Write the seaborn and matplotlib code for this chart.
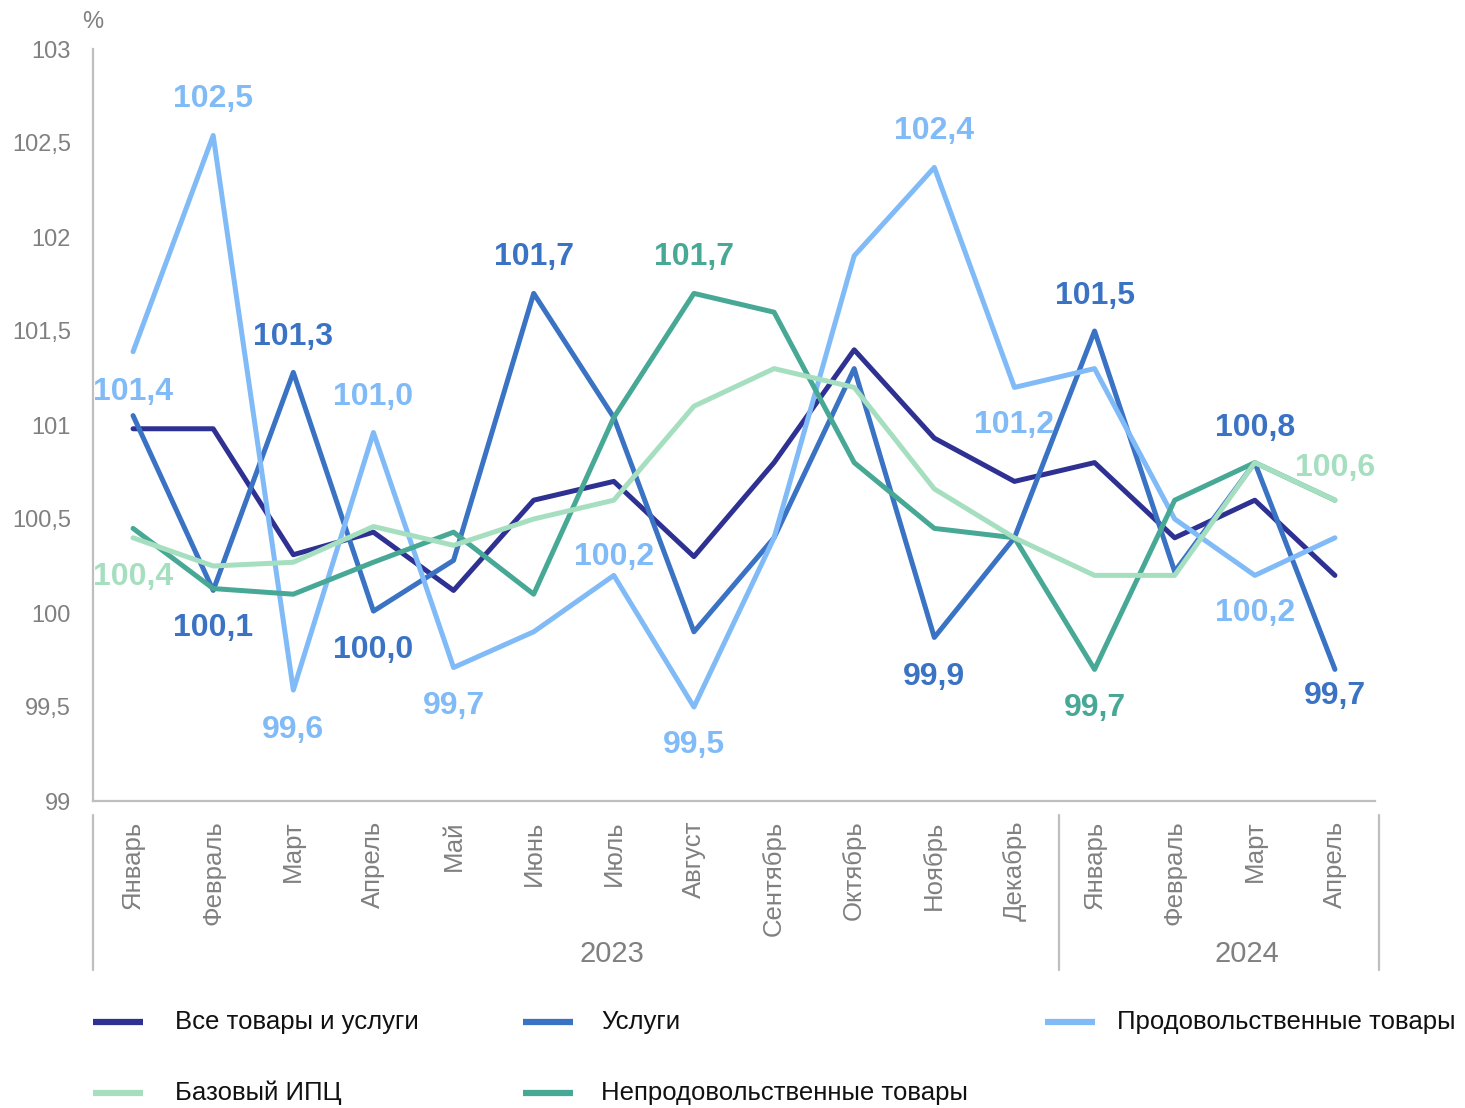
import pandas as pd
import seaborn as sns
import matplotlib.pyplot as plt
from matplotlib.lines import Line2D
from matplotlib.ticker import FuncFormatter

# Данные: индексы потребительских цен, % к предыдущему месяцу
months = ["Январь", "Февраль", "Март", "Апрель", "Май", "Июнь", "Июль", "Август",
          "Сентябрь", "Октябрь", "Ноябрь", "Декабрь",
          "Январь", "Февраль", "Март", "Апрель"]
years = ["2023", "2024"]

all_goods = [100.98, 100.98, 100.31, 100.43, 100.12, 100.6, 100.7, 100.3,
             100.8, 101.4, 100.93, 100.7, 100.8, 100.4, 100.6, 100.2]
services = [101.05, 100.12, 101.28, 100.01, 100.28, 101.7, 101.04, 99.9,
            100.4, 101.3, 99.87, 100.4, 101.5, 100.22, 100.8, 99.7]
food = [101.39, 102.54, 99.59, 100.96, 99.71, 99.9, 100.2, 99.5,
        100.4, 101.9, 102.37, 101.2, 101.3, 100.5, 100.2, 100.4]
core = [100.4, 100.25, 100.27, 100.46, 100.36, 100.5, 100.6, 101.1,
        101.3, 101.2, 100.66, 100.4, 100.2, 100.2, 100.8, 100.6]
nonfood = [100.45, 100.13, 100.1, 100.27, 100.43, 100.1, 101.04, 101.7,
           101.6, 100.8, 100.45, 100.4, 99.7, 100.6, 100.8, 100.6]

names = ["Все товары и услуги", "Услуги", "Продовольственные товары",
         "Базовый ИПЦ", "Непродовольственные товары"]
series = dict(zip(names, [all_goods, services, food, core, nonfood]))
colors = dict(zip(names, ["#2e3192", "#3a72c4", "#80bbf7", "#a6dfc0", "#47a995"]))

# подписи: (ряд, номер месяца, смещение в пикселях)
labels = [
    ("Продовольственные товары", 0, -40), ("Продовольственные товары", 1, 36),
    ("Продовольственные товары", 2, -40), ("Продовольственные товары", 3, 36),
    ("Продовольственные товары", 4, -38), ("Продовольственные товары", 6, 18),
    ("Продовольственные товары", 7, -38), ("Продовольственные товары", 10, 36),
    ("Продовольственные товары", 11, -38), ("Продовольственные товары", 14, -38),
    ("Услуги", 1, -38), ("Услуги", 2, 35), ("Услуги", 3, -39), ("Услуги", 5, 36),
    ("Услуги", 10, -40), ("Услуги", 12, 35), ("Услуги", 14, 35), ("Услуги", 15, -27),
    ("Базовый ИПЦ", 0, -39), ("Базовый ИПЦ", 15, 32),
    ("Непродовольственные товары", 7, 36), ("Непродовольственные товары", 12, -39),
]

df = pd.DataFrame(
    [(i, v, n) for n in names for i, v in enumerate(series[n])],
    columns=["month", "value", "series"],
)

sns.set_style("white")
plt.rcParams["font.family"] = ["Liberation Sans", "DejaVu Sans"]

gray = "#808080"
fig = plt.figure(figsize=(14.65, 11.08), dpi=100)
ax = fig.add_axes([93 / 1465, 307 / 1108, 1282 / 1465, 752 / 1108])

draw_order = ["Все товары и услуги", "Услуги", "Продовольственные товары",
              "Непродовольственные товары", "Базовый ИПЦ"]
sns.lineplot(data=df, x="month", y="value", hue="series", hue_order=draw_order,
             palette=colors, linewidth=3.6, legend=False, ax=ax)

for n, i, dy in labels:
    v = series[n][i]
    ax.annotate(f"{v:.1f}".replace(".", ","), (i, v), xytext=(0, dy),
                textcoords="offset pixels", ha="center", va="center",
                fontsize=23, fontweight="bold", color=colors[n])

ax.set_xlim(-0.5, 15.5)
ax.set_ylim(99, 103)
ax.set_yticks([99 + 0.5 * k for k in range(9)])
ax.yaxis.set_major_formatter(FuncFormatter(lambda v, p: f"{v:g}".replace(".", ",")))
ax.set_xticks(range(len(months)))
ax.set_xticklabels(months, rotation=90, va="top")
ax.tick_params(axis="x", length=0, pad=14, labelsize=18.5, labelcolor=gray)
ax.tick_params(axis="y", length=0, pad=16, labelsize=17, labelcolor=gray)
ax.set_xlabel("")
ax.set_ylabel("")
for s in ["top", "right"]:
    ax.spines[s].set_visible(False)
for s in ["left", "bottom"]:
    ax.spines[s].set_color("#bfbfbf")
    ax.spines[s].set_linewidth(1.6)

# границы групп по годам
trans = ax.get_xaxis_transform()
for x in [-0.5, 11.55, 15.55]:
    ax.plot([x, x], [-0.019, -0.225], color="#bfbfbf", lw=1.6,
            transform=trans, clip_on=False)
for x, year in zip([5.98, 13.9], years):
    ax.text(x, -0.2035, year, transform=trans, ha="center", va="center",
            fontsize=21, color=gray)

fig.text(93 / 1465, 1 - 22 / 1108, "%", ha="center", va="center",
         fontsize=17, color=gray)

# легенда: (x маркера, x текста, y) в пикселях
legend_pos = [(93, 175, 1022), (523, 601, 1022), (1045, 1117, 1022),
              (93, 175, 1093), (523, 601, 1093)]
for n, (lx, tx, ly) in zip(names, legend_pos):
    yf = 1 - ly / 1108
    fig.add_artist(Line2D([lx / 1465, (lx + 50) / 1465], [yf, yf],
                          color=colors[n], lw=4.5, solid_capstyle="butt"))
    fig.text(tx / 1465, yf, n, ha="left", va="center",
             fontsize=18.5, color="#111111")

fig.savefig("out.png", dpi=100)
